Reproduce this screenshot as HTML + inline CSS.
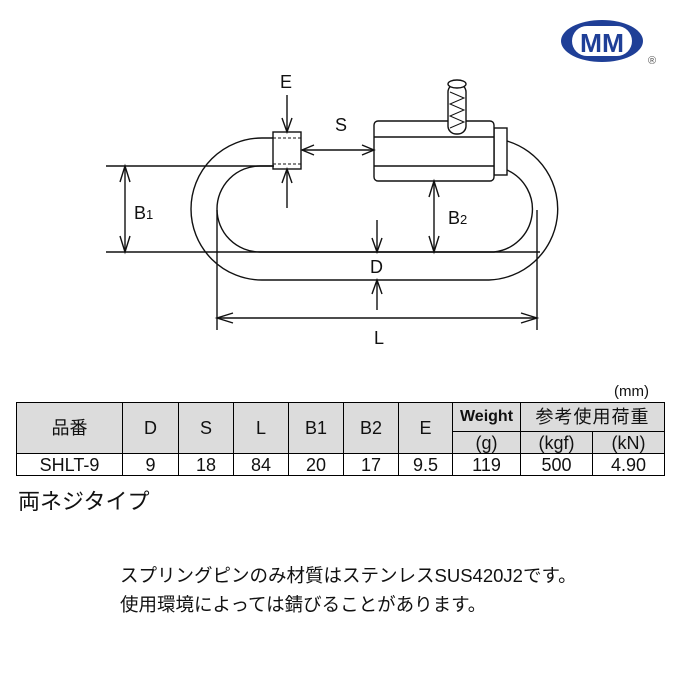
<!DOCTYPE html>
<html><head><meta charset="utf-8"><style>
body{margin:0;background:#fff;width:680px;height:680px;overflow:hidden;position:relative;font-family:"Liberation Sans","Noto Sans CJK JP",sans-serif}
table{position:absolute;left:16px;top:402px;border-collapse:collapse;font-size:18px}
td{border:1px solid #000;text-align:center;padding:0;color:#111;line-height:1}
.h{background:#dcdcdc}
.t{position:absolute;color:#111;white-space:nowrap}
</style></head><body>
<svg width="680" height="680" style="position:absolute;left:0;top:0" fill="none" stroke="#111" stroke-width="1.4">
<ellipse cx="602" cy="41" rx="41" ry="21" fill="#1f3f97" stroke="none"/>
<rect x="572" y="26" width="60" height="30" rx="15" fill="#fff" stroke="none"/>
<text x="602" y="52" font-family="Liberation Sans" font-weight="bold" font-size="26" fill="#1f3f97" stroke="none" text-anchor="middle" textLength="44" lengthAdjust="spacingAndGlyphs">MM</text>
<text x="648" y="64" font-size="11" fill="#555" stroke="none" font-family="Liberation Sans">®</text>
<path d="M274 138 H262 A71 71 0 0 0 262 280 H489 A71 71 0 0 0 507 141"/>
<path d="M274 166 H260 A43 43 0 0 0 260 252 H494 A43 43 0 0 0 507 170"/>
<rect x="273" y="132" width="28" height="37" fill="#fff"/>
<line x1="273" y1="138" x2="301" y2="138" stroke-dasharray="3,2" stroke-width="1"/>
<line x1="273" y1="164" x2="301" y2="164" stroke-dasharray="3,2" stroke-width="1"/>
<rect x="494" y="128" width="13" height="47" fill="#fff"/>
<rect x="374" y="121" width="120" height="60" rx="4" fill="#fff"/>
<line x1="374" y1="137" x2="494" y2="137"/><line x1="374" y1="166" x2="494" y2="166"/>
<rect x="448" y="84" width="18" height="50" rx="8" fill="#fff"/>
<ellipse cx="457" cy="84" rx="9" ry="4" fill="#fff"/>
<path d="M450 92 L464 98 L450 104 L464 110 L450 116 L464 122 L450 128" stroke-width="1"/>
<line x1="106" y1="166" x2="274" y2="166"/><line x1="106" y1="252" x2="220" y2="252"/>
<line x1="220" y1="252" x2="540" y2="252"/>
<line x1="125" y1="166" x2="125" y2="252"/>
<path d="M120 182 L125 166 L130 182 M120 236 L125 252 L130 236"/>
<line x1="287" y1="95" x2="287" y2="132"/><path d="M282 118 L287 132 L292 118"/>
<line x1="287" y1="169" x2="287" y2="208"/><path d="M282 183 L287 169 L292 183"/>
<line x1="302" y1="150" x2="374" y2="150"/><path d="M314 145 L302 150 L314 155 M362 145 L374 150 L362 155"/>
<line x1="434" y1="181" x2="434" y2="252"/><path d="M429 197 L434 181 L439 197 M429 236 L434 252 L439 236"/>
<line x1="377" y1="220" x2="377" y2="252"/><path d="M372 238 L377 252 L382 238"/>
<line x1="377" y1="280" x2="377" y2="310"/><path d="M372 294 L377 280 L382 294"/>
<line x1="217" y1="210" x2="217" y2="330"/><line x1="537" y1="210" x2="537" y2="330"/>
<line x1="217" y1="318" x2="537" y2="318"/><path d="M233 313 L217 318 L233 323 M521 313 L537 318 L521 323"/>
<g fill="#111" stroke="none" font-size="18" font-family="Liberation Sans">
<text x="280" y="88">E</text><text x="335" y="131">S</text>
<text x="134" y="219">B<tspan font-size="13">1</tspan></text>
<text x="448" y="224">B<tspan font-size="13">2</tspan></text>
<text x="370" y="273">D</text><text x="374" y="344">L</text>
</g>
</svg>
<div class="t" style="left:614px;top:383px;font-size:15px">(mm)</div>
<table>
<tr style="height:29px"><td class="h" rowspan="2" style="width:105px">品番</td><td class="h" rowspan="2" style="width:55px">D</td><td class="h" rowspan="2" style="width:54px">S</td><td class="h" rowspan="2" style="width:54px">L</td><td class="h" rowspan="2" style="width:54px">B1</td><td class="h" rowspan="2" style="width:54px">B2</td><td class="h" rowspan="2" style="width:53px">E</td><td class="h" style="width:67px;font-weight:bold;font-size:16px">Weight</td><td class="h" colspan="2" style="letter-spacing:1px">参考使用荷重</td></tr>
<tr style="height:22px"><td class="h">(g)</td><td class="h" style="width:71px">(kgf)</td><td class="h" style="width:71px">(kN)</td></tr>
<tr style="height:22px"><td>SHLT-9</td><td>9</td><td>18</td><td>84</td><td>20</td><td>17</td><td>9.5</td><td>119</td><td>500</td><td>4.90</td></tr>
</table>
<div class="t" style="left:18px;top:484px;font-size:22px">両ネジタイプ</div>
<div class="t" style="left:120px;top:562px;font-size:18.5px">スプリングピンのみ材質はステンレスSUS420J2です。</div>
<div class="t" style="left:120px;top:591px;font-size:18.5px">使用環境によっては錆びることがあります。</div>
</body></html>
